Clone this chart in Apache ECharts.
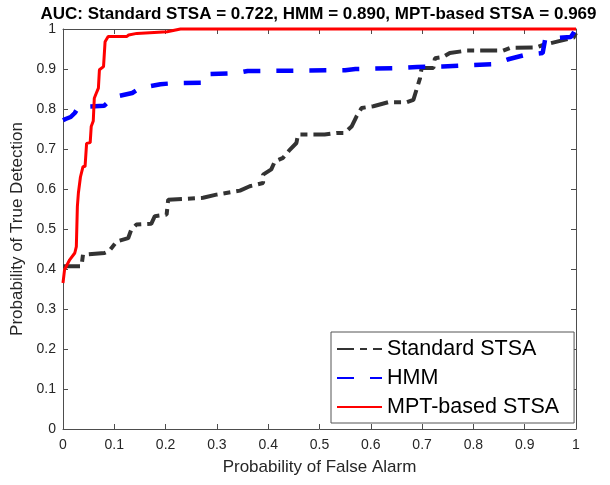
<!DOCTYPE html>
<html>
<head>
<meta charset="utf-8">
<script src="https://cdn.jsdelivr.net/npm/echarts@6/dist/echarts.min.js"></script>
<style>
html,body{margin:0;padding:0;background:#fff;}
#chart{width:610px;height:485px;}
</style>
</head>
<body>
<div id="chart"></div>
<script>
var titleText = 'AUC: Standard STSA = 0.722, HMM = 0.890, MPT-based STSA = 0.969';
var seriesNames = ['Standard STSA', 'HMM', 'MPT-based STSA'];
var tickValues = [0, 0.1, 0.2, 0.3, 0.4, 0.5, 0.6, 0.7, 0.8, 0.9, 1];

var fprStd = [0,0.036,0.039,0.081,0.09,0.105,0.127,0.133,0.143,0.172,0.179,0.202,0.205,0.273,0.299,0.345,0.364,0.39,0.39,0.406,0.413,0.429,0.442,0.455,0.458,0.51,0.533,0.549,0.563,0.572,0.582,0.605,0.634,0.67,0.683,0.689,0.696,0.699,0.722,0.725,0.741,0.754,0.787,0.858,0.871,0.923,0.936,0.965,0.995,1];
var tprStd = [0.407,0.407,0.436,0.44,0.445,0.469,0.477,0.498,0.511,0.513,0.532,0.536,0.573,0.578,0.586,0.596,0.607,0.615,0.636,0.649,0.669,0.678,0.698,0.715,0.736,0.736,0.74,0.74,0.757,0.781,0.8025,0.807,0.817,0.817,0.823,0.848,0.877,0.9025,0.9025,0.927,0.93,0.94,0.946,0.946,0.9525,0.954,0.96,0.969,0.978,0.99];

var fprHmm = [0,0.005,0.015,0.023,0.03,0.08,0.09,0.1,0.135,0.15,0.19,0.22,0.275,0.28,0.34,0.36,0.55,0.57,0.65,0.69,0.74,0.77,0.8,0.84,0.87,0.9,0.935,0.94,0.975,0.99,1];
var tprHmm = [0.772,0.775,0.78,0.79,0.805,0.808,0.82,0.83,0.84,0.852,0.862,0.865,0.866,0.887,0.89,0.895,0.897,0.9,0.902,0.905,0.906,0.908,0.91,0.912,0.925,0.935,0.94,0.975,0.979,0.98,1];

var fprMpt = [0,0.003,0.013,0.023,0.026,0.028,0.03,0.034,0.039,0.043,0.046,0.053,0.055,0.059,0.061,0.066,0.069,0.071,0.079,0.082,0.088,0.124,0.128,0.144,0.147,0.203,0.229,1];
var tprMpt = [0.365,0.398,0.423,0.44,0.456,0.556,0.59,0.63,0.656,0.656,0.714,0.716,0.756,0.77,0.827,0.843,0.852,0.898,0.906,0.968,0.981,0.981,0.985,0.989,0.993,0.993,1,1];

function zip(xs, ys){ return xs.map(function(x,i){ return [x, ys[i]]; }); }

var axisColor = '#4d4d4d';
var labelColor = '#262626';
var fontFam = '"Liberation Sans", Arial, Helvetica, sans-serif';

function mkX(pos, showLabel, name){
  return {
    type:'value', position:pos, min:0, max:1, interval:0.1,
    name: name || '', nameLocation:'middle', nameGap:30,
    nameTextStyle:{fontSize:17, color:labelColor, fontFamily:fontFam},
    axisLine:{show:true, onZero:false, lineStyle:{color:axisColor, width:1}},
    axisTick:{show:true, inside:true, length:5, lineStyle:{color:axisColor}},
    axisLabel:{show:showLabel, fontSize:14, color:labelColor, fontFamily:fontFam, margin:9},
    splitLine:{show:false}
  };
}
function mkY(pos, showLabel, name){
  return {
    type:'value', position:pos, min:0, max:1, interval:0.1,
    name: name || '', nameLocation:'middle', nameGap:35,
    nameTextStyle:{fontSize:17, color:labelColor, fontFamily:fontFam},
    axisLine:{show:true, onZero:false, lineStyle:{color:axisColor, width:1}},
    axisTick:{show:true, inside:true, length:5, lineStyle:{color:axisColor}},
    axisLabel:{show:showLabel, fontSize:14, color:labelColor, fontFamily:fontFam, margin:7},
    splitLine:{show:false}
  };
}

var chart = echarts.init(document.getElementById('chart'), null, {renderer:'canvas'});
chart.setOption({
  animation:false,
  backgroundColor:'#ffffff',
  grid:{left:63, right:34, top:29, bottom:56, containLabel:false},
  graphic:[{
    type:'text', x:318.5, y:6,
    style:{text:titleText, fill:'#000', align:'center', verticalAlign:'top',
           font:'bold 17px "Liberation Sans", Arial, sans-serif'}
  }],
  xAxis:[mkX('bottom', true, 'Probability of False Alarm'), mkX('top', false)],
  yAxis:[mkY('left', true, 'Probability of True Detection'), mkY('right', false)],
  legend:{
    orient:'vertical', left:331, top:332,
    backgroundColor:'#fff', borderColor:'#555', borderWidth:1, borderRadius:0,
    padding:[6,15,5,5], itemGap:7, itemWidth:45, itemHeight:10, itemTextGap:5,
    itemStyle:{opacity:0},
    textStyle:{fontSize:21.5, color:'#000', fontFamily:fontFam},
    data:seriesNames
  },
  series:[
    {name:seriesNames[0], type:'line', xAxisIndex:0, yAxisIndex:0, data:zip(fprStd,tprStd),
     showSymbol:false, symbol:'none', clip:false,
     lineStyle:{color:'#333333', width:4, type:[17,6,7,6]}, itemStyle:{color:'#333333'}},
    {name:seriesNames[1], type:'line', xAxisIndex:0, yAxisIndex:0, data:zip(fprHmm,tprHmm),
     showSymbol:false, symbol:'none', clip:false,
     lineStyle:{color:'#0000ff', width:4.5, type:[17,16]}, itemStyle:{color:'#0000ff'}},
    {name:seriesNames[2], type:'line', xAxisIndex:0, yAxisIndex:0, data:zip(fprMpt,tprMpt),
     showSymbol:false, symbol:'none', clip:false,
     lineStyle:{color:'#ff0000', width:3}, itemStyle:{color:'#ff0000'}}
  ]
});
</script>
</body>
</html>
